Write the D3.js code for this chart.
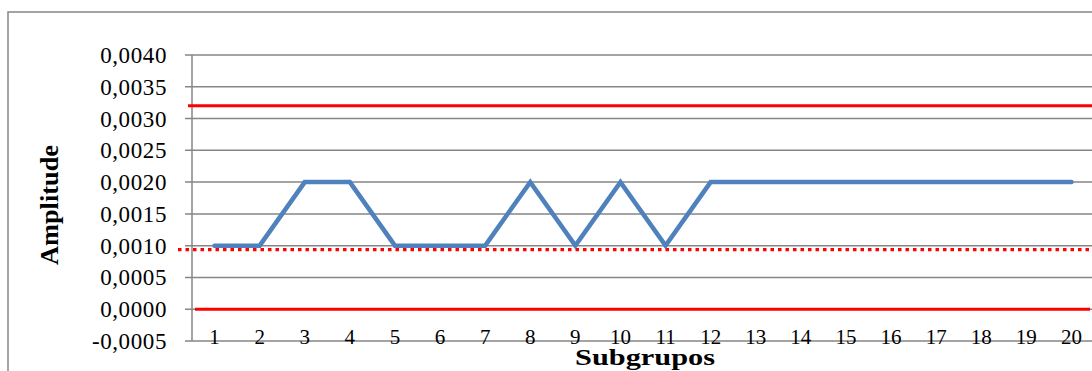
<!DOCTYPE html>
<html>
<head>
<meta charset="utf-8">
<script src="https://cdn.jsdelivr.net/npm/d3@7/dist/d3.min.js"></script>
<style>
  html, body { margin: 0; padding: 0; background: #fff; }
  svg { display: block; }
  text { font-family: "Liberation Serif", "Times New Roman", serif; fill: #000; }
</style>
</head>
<body>
<svg id="chart" width="1092" height="371"></svg>
<script>
// ---- data ----
const categories = ["1","2","3","4","5","6","7","8","9","10","11","12","13","14","15","16","17","18","19","20"];
const amplitude = [0.0010,0.0010,0.0020,0.0020,0.0010,0.0010,0.0010,0.0020,0.0010,0.0020,0.0010,0.0020,0.0020,0.0020,0.0020,0.0020,0.0020,0.0020,0.0020,0.0020];
const ucl = 0.0032;
const cl = 0.00095;
const lcl = 0.0;
const yTicks = [-0.0005,0,0.0005,0.0010,0.0015,0.0020,0.0025,0.0030,0.0035,0.0040];
const yTickLabels = ["-0,0005","0,0000","0,0005","0,0010","0,0015","0,0020","0,0025","0,0030","0,0035","0,0040"];
const yTitle = "Amplitude";
const xTitle = "Subgrupos";

// ---- layout ----
const W = 1092, H = 371;
const plot = { left: 192, top: 55, bottom: 341, right: 1094 };
const svg = d3.select("#chart");

const x = d3.scaleBand().domain(categories).range([plot.left, plot.right]).paddingInner(0).paddingOuter(0);
const y = d3.scaleLinear().domain([-0.0005, 0.0040]).range([plot.bottom, plot.top]);

// outer chart border (cropped on the right/bottom)
svg.append("rect").attr("x", 8).attr("y", 12).attr("width", 1300).attr("height", 600)
  .attr("fill", "none").attr("stroke", "#868686").attr("stroke-width", 1.5);

// gridlines + tick marks
const gridColor = "#868686";
svg.append("g").selectAll("line").data(yTicks).join("line")
  .attr("x1", plot.left - 7).attr("x2", W)
  .attr("y1", d => y(d)).attr("y2", d => y(d))
  .attr("stroke", gridColor).attr("stroke-width", 1.5);

// vertical axis line
svg.append("line").attr("x1", plot.left).attr("x2", plot.left)
  .attr("y1", y(0.0040)).attr("y2", y(-0.0005))
  .attr("stroke", gridColor).attr("stroke-width", 1.5);

// y tick labels
svg.append("g").selectAll("text").data(yTicks).join("text")
  .attr("x", 167).attr("y", d => y(d))
  .attr("dy", "0.35em")
  .attr("text-anchor", "end")
  .attr("font-size", 23).attr("letter-spacing", 0.6)
  .text((d, i) => yTickLabels[i]);

// x tick labels
svg.append("g").selectAll("text").data(categories).join("text")
  .attr("x", d => x(d) + x.bandwidth() / 2)
  .attr("y", plot.bottom + 3)
  .attr("text-anchor", "middle")
  .attr("font-size", 21)
  .text(d => d);

// control limits
const red = "#ff0000";
svg.append("line").attr("x1", plot.left - 4).attr("x2", W)
  .attr("y1", y(ucl)).attr("y2", y(ucl))
  .attr("stroke", red).attr("stroke-width", 3);
svg.append("line").attr("x1", plot.left + 3).attr("x2", W - 2)
  .attr("y1", y(lcl)).attr("y2", y(lcl))
  .attr("stroke", red).attr("stroke-width", 3);
svg.append("line").attr("x1", plot.left - 14).attr("x2", W)
  .attr("y1", y(cl) + 0.8).attr("y2", y(cl) + 0.8)
  .attr("stroke", red).attr("stroke-width", 3.3)
  .attr("stroke-dasharray", "3.5,4");

// amplitude line
const line = d3.line()
  .x((d, i) => x(categories[i]) + x.bandwidth() / 2)
  .y(d => y(d));
svg.append("path").datum(amplitude)
  .attr("d", line)
  .attr("fill", "none")
  .attr("stroke", "#4f81bd")
  .attr("stroke-width", 4.5)
  .attr("stroke-linejoin", "miter")
  .attr("stroke-linecap", "round");

// axis titles
svg.append("text")
  .attr("transform", `translate(58, 205) rotate(-90)`)
  .attr("text-anchor", "middle")
  .attr("font-size", 25).attr("font-weight", "bold")
  .attr("textLength", 120).attr("lengthAdjust", "spacingAndGlyphs")
  .text(yTitle);
svg.append("text")
  .attr("x", 645).attr("y", 365)
  .attr("text-anchor", "middle")
  .attr("font-size", 24).attr("font-weight", "bold")
  .attr("textLength", 140).attr("lengthAdjust", "spacingAndGlyphs")
  .text(xTitle);
</script>
</body>
</html>
